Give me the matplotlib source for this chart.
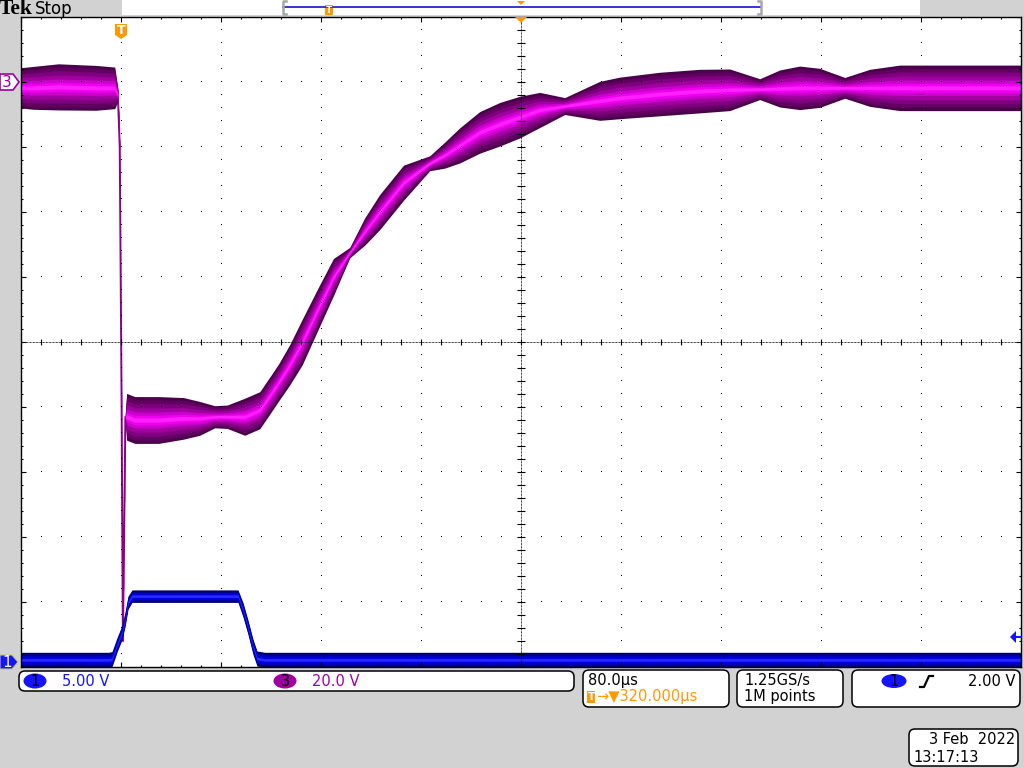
import numpy as np
import matplotlib
matplotlib.use("Agg")
import matplotlib.pyplot as plt
from matplotlib.patches import FancyBboxPatch, Polygon, Rectangle, Ellipse
from matplotlib.collections import LineCollection

# ---- scope settings ----
TDIV = 80.0                      # us/div
T_LEFT, T_RIGHT = -80.0, 720.0   # trigger at 1 div from the left
CH3_SCALE, CH3_POS = 20.0, 4.0   # V/div, zero position (div)
CH1_SCALE, CH1_POS = 5.0, -4.89

# ---- ch3 (magenta): time us, centre V, envelope half-width V ----
ch3_t = [-80, -70, -50, -20, -5, -2.5, -1, 0.5, 1.5, 2.5, 3.5, 4.5, 11, 30, 50, 63, 75, 85,
         99, 111, 119, 126, 135, 145, 158, 170, 183, 195, 207, 226, 247, 259, 271, 287, 303,
         319, 335, 355, 383, 399, 431, 463, 487, 511, 527, 543, 559, 579, 599, 623, 720]
ch3_v = [-1.8, -1.8, -1.5, -1.8, -1.8, -4, -20, -100, -172, -140, -103, -103, -104, -104,
         -103.5, -103.5, -103, -103, -103, -101, -96.5, -92.5, -87, -80, -69.5, -60, -52.5,
         -46, -40, -31, -25, -22.5, -19.5, -15.5, -13, -10.8, -8.6, -7.4, -5.8, -4.9, -3.7,
         -2.8, -2.4, -2.2, -2.0, -1.8, -1.8, -1.8, -1.8, -1.8, -1.8]
ch3_env = [6.2, 6.6, 7.1, 6.9, 6.4, 2.0, 0.8, 0.8, 0.8, 0.8, 1.5, 7.2, 7.2, 7.2, 6.4, 5.2,
           3.4, 3.6, 5.7, 5.7, 5.7, 5.7, 6.2, 7.0, 6.4, 5.7, 1.6, 4.2, 5.4, 5.4, 2.3, 4.0,
           5.4, 6.4, 6.7, 6.4, 5.4, 2.6, 6.0, 6.4, 6.7, 6.7, 6.4, 3.2, 5.7, 6.7, 6.0, 3.2,
           5.7, 7.0, 7.0]

# ---- ch1 (blue) ----
ch1_t = [-80, -10, -7.2, -3, 0.8, 3.2, 5.6, 8.8, 50, 93.6, 97.6, 101.6, 105.6, 108.8, 115, 720]
ch1_v = [0, 0, 0.05, 1.2, 2.1, 3.1, 4.4, 4.9, 4.9, 4.9, 3.85, 2.5, 1.0, 0.1, 0, 0]
ch1_env = [0.58, 0.58, 0.58, 0.55, 0.55, 0.55, 0.5, 0.48, 0.48, 0.48, 0.55, 0.55, 0.58, 0.58,
           0.58, 0.58]

BG = "#d2d2d2"
BLUE = "#1414ff"
PURP = "#a000a0"
ORANGE = "#ff9900"

fig = plt.figure(figsize=(10.24, 7.68), dpi=100, facecolor=BG)
ax = fig.add_axes([21 / 1024, 1 - 667 / 768, 1000 / 1024, 650 / 768], zorder=1)
ax.set_xlim(T_LEFT, T_RIGHT); ax.set_ylim(-5, 5)
ax.set_xticks([]); ax.set_yticks([])
ax.set_facecolor("white")
for s in ax.spines.values(): s.set_color("black"); s.set_linewidth(1)


def persist(t, v, env, scale, pos, cols, fracs, minw):
    t = np.array(t, float); y = np.array(v, float) / scale + pos; h = np.array(env, float) / scale
    for c, f in zip(cols, fracs):
        hh = np.maximum(h * f, minw)
        ax.fill_between(t, y - hh, y + hh, color=c, lw=0, zorder=2)


t3, y3 = np.array(ch3_t, float), np.array(ch3_v, float) / CH3_SCALE + CH3_POS
ax.plot(t3, y3, color="#8c008c", lw=1.4, zorder=2)
persist(ch3_t, ch3_v, ch3_env, CH3_SCALE, CH3_POS,
        ["#4a004a", "#620062", "#7e007e", "#a000a0", "#cc00cc", "#f000f0", "#ff20ff"],
        [1.0, 0.86, 0.7, 0.52, 0.34, 0.2, 0.09], 0.02)
persist(ch1_t, ch1_v, ch1_env, CH1_SCALE, CH1_POS,
        ["#000064", "#00008c", "#0000c0", "#0000ec", "#2a2aff"],
        [1.0, 0.8, 0.58, 0.38, 0.16], 0.02)

# ---- graticule (drawn over traces, like the scope) ----
xmaj = np.arange(T_LEFT, T_RIGHT + 1, TDIV)
xmin = np.arange(T_LEFT, T_RIGHT + 1, TDIV / 5)
ymaj = np.arange(-5, 6, 1.0)
ymin = np.linspace(-5, 5, 51)
xc = T_LEFT + 5 * TDIV
for y in ymaj[1:-1]:
    if y == 0: continue
    ax.plot(xmin, np.full_like(xmin, y), ",", color="black", zorder=4)
for x in xmaj[1:-1]:
    if x == xc: continue
    ax.plot(np.full_like(ymin, x), ymin, ",", color="black", zorder=4)
ax.axhline(0, color="black", lw=0.72, dashes=(0.72, 0.72), zorder=4)
ax.axvline(xc, color="black", lw=0.72, dashes=(0.72, 0.72), zorder=4)
px_x = (T_RIGHT - T_LEFT) / 1000.0   # us per pixel
px_y = 10 / 650.0                   # div per pixel
segs = []
for x in xmin:
    segs.append([(x, -3 * px_y), (x, 3 * px_y)])
    L = 5 if x in xmaj else 2
    segs.append([(x, 5), (x, 5 - L * px_y)])
    segs.append([(x, -5), (x, -5 + L * px_y)])
for y in ymin:
    segs.append([(xc - 4 * px_x, y), (xc + 4 * px_x, y)])
    L = 5 if abs(y - round(y)) < 1e-6 else 2
    segs.append([(T_LEFT, y), (T_LEFT + L * px_x, y)])
    segs.append([(T_RIGHT, y), (T_RIGHT - L * px_x, y)])
ax.add_collection(LineCollection(segs, colors="black", linewidths=0.8, zorder=4))

# ---- screen furniture in pixel coordinates ----
ov = fig.add_axes([0, 0, 1, 1], zorder=5)
ov.set_xlim(0, 1024); ov.set_ylim(768, 0); ov.axis("off"); ov.patch.set_alpha(0)

ov.text(-1, 8.5, "Tek", fontsize=15.5, fontweight="bold", family="Liberation Serif", va="center", ha="left")
ov.text(35, 8.5, "Stop", fontsize=12, va="center", ha="left")
ov.add_patch(Rectangle((122, 0), 798, 14.5, fc="white", ec="none"))
ov.plot([283, 761], [7, 7], color="#1414c8", lw=1.2)
for xb, d in [(283, 3), (761, -3)]:
    ov.plot([xb + d, xb, xb, xb + d], [1, 1, 14, 14], color="#a8a8a8", lw=1.8)
ov.add_patch(Rectangle((325, 5), 8, 10, fc=ORANGE, ec="none"))
ov.text(329, 10.5, "T", color="white", fontsize=6.5, fontweight="bold", ha="center", va="center")
ov.add_patch(Polygon([(517, 1), (525, 1), (521, 5)], fc=ORANGE, ec="none"))
ov.add_patch(Polygon([(515, 17), (527, 17), (521, 23)], fc=ORANGE, ec="none"))
ov.add_patch(Polygon([(115, 24), (127, 24), (127, 35), (121, 39), (115, 35)], fc=ORANGE, ec="none"))
ov.text(121, 31, "T", color="white", fontsize=9, fontweight="bold", ha="center", va="center")

# channel markers
ov.add_patch(Polygon([(0, 74), (13, 74), (19, 82), (13, 90), (0, 90)], fc="white", ec=PURP, lw=1.2))
ov.text(7, 82.5, "3", color=PURP, fontsize=11, ha="center", va="center")
ov.add_patch(Polygon([(0, 655), (12, 655), (18, 662), (12, 669), (0, 669)], fc=BLUE, ec="#c8c864", lw=0.8))
ov.text(7, 662.5, "1", color="white", fontsize=11, ha="center", va="center")
ov.add_patch(Polygon([(1010, 637), (1016, 631), (1016, 643)], fc=BLUE, ec="none"))
ov.plot([1015, 1021], [637, 637], color=BLUE, lw=1.5)


def box(x0, y0, x1, y1):
    ov.add_patch(FancyBboxPatch((x0, y0), x1 - x0, y1 - y0, boxstyle="round,pad=0,rounding_size=6",
                                fc="white", ec="black", lw=1.1))


FS = 10.5
box(19, 671, 574, 691)
ov.add_patch(Ellipse((35, 681), 23, 15, fc=BLUE, ec="none"))
ov.text(35, 681.5, "1", fontsize=FS, ha="center", va="center")
ov.text(62, 681.5, "5.00 V", fontsize=FS, color=BLUE, va="center")
ov.add_patch(Ellipse((285, 681), 23, 15, fc=PURP, ec="none"))
ov.text(285, 681.5, "3", fontsize=FS, ha="center", va="center")
ov.text(312, 681.5, "20.0 V", fontsize=FS, color=PURP, va="center")

box(583, 670, 729, 707)
ov.text(588, 681, "80.0µs", fontsize=FS, va="center")
ov.add_patch(Rectangle((587, 691), 8, 12, fc=ORANGE, ec="none"))
ov.text(591, 697.5, "T", color="white", fontsize=7.5, fontweight="bold", ha="center", va="center")
ov.text(596, 697, "→▼320.000µs", fontsize=FS, color=ORANGE, va="center")

box(737, 670, 843, 707)
ov.text(744, 681, "1.25GS/s", fontsize=FS, va="center")
ov.text(744, 697, "1M points", fontsize=FS, va="center")

box(852, 670, 1020, 707)
ov.add_patch(Ellipse((894, 681), 25, 14, fc=BLUE, ec="none"))
ov.text(894, 681.5, "1", fontsize=FS, ha="center", va="center")
ov.plot([920, 924, 929, 933], [687, 687, 676, 676], color="black", lw=1.6)
ov.text(1015, 681, "2.00 V", fontsize=FS, ha="right", va="center")

box(909, 729, 1018, 766)
ov.text(1015, 740, "3 Feb  2022", fontsize=FS, ha="right", va="center")
ov.text(913, 757, "13:17:13", fontsize=FS, va="center")

fig.savefig("out.png", dpi=100, facecolor=BG)
